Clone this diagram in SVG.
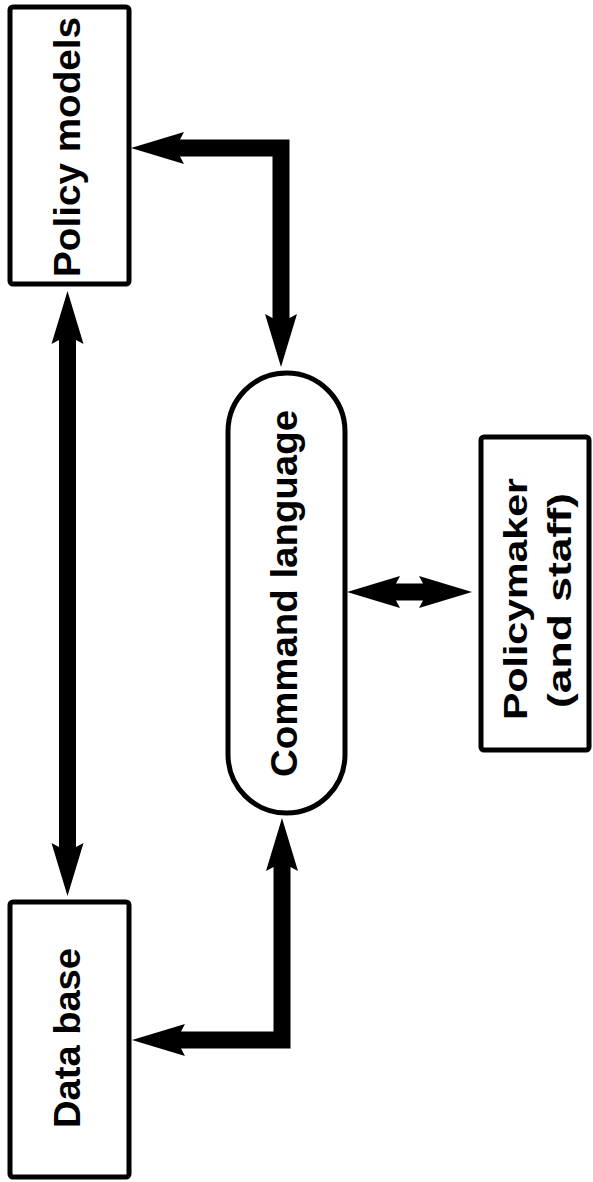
<svg xmlns="http://www.w3.org/2000/svg" xmlns:xlink="http://www.w3.org/1999/xlink" width="593" height="1182" viewBox="0 0 593 1182">
  <style>
    .box { fill: #fff; stroke: #000; stroke-width: 5; }
    .lbl { font-family: "Liberation Sans", Arial, Helvetica, sans-serif; font-weight: bold; fill: #000; text-anchor: middle; }
    .shaft { fill: none; stroke: #000; stroke-width: 17; stroke-linejoin: miter; stroke-linecap: butt; }
    .head { fill: #000; }
  </style>
  <defs>
    <path id="ah" class="head" d="M0,0 L-53,-16 L-49,-8.5 L-49,8.5 L-53,16 Z"/>
  </defs>
  <rect x="0" y="0" width="593" height="1182" fill="#fff"/>

  <g id="connectors">
    <!-- Policy models <-> Data base -->
    <line class="shaft" x1="67.5" y1="338" x2="67.5" y2="849"/>
    <use xlink:href="#ah" transform="translate(67.5,291) rotate(-90)"/>
    <use xlink:href="#ah" transform="translate(67.5,896) rotate(90)"/>
    <!-- Command language <-> Policy models -->
    <path class="shaft" d="M281,320 L281,148 L178,148"/>
    <use xlink:href="#ah" transform="translate(131,148) rotate(180)"/>
    <use xlink:href="#ah" transform="translate(281,367) rotate(90)"/>
    <!-- Command language <-> Data base -->
    <path class="shaft" d="M282,865 L282,1040 L179,1040"/>
    <use xlink:href="#ah" transform="translate(132,1040) rotate(180)"/>
    <use xlink:href="#ah" transform="translate(282,818) rotate(-90)"/>
    <!-- Command language <-> Policymaker -->
    <line class="shaft" x1="395" y1="592" x2="424" y2="592"/>
    <use xlink:href="#ah" transform="translate(347,592) rotate(180)"/>
    <use xlink:href="#ah" transform="translate(472,592)"/>
  </g>

  <g id="policy-models">
    <rect class="box" x="10" y="7" width="119" height="277" rx="3"/>
    <text class="lbl" font-size="36" transform="translate(80,147) rotate(-90)" textLength="260" lengthAdjust="spacingAndGlyphs">Policy models</text>
  </g>

  <g id="data-base">
    <rect class="box" x="10" y="902" width="119" height="275" rx="3"/>
    <text class="lbl" font-size="36" transform="translate(80,1038) rotate(-90)" textLength="180" lengthAdjust="spacingAndGlyphs">Data base</text>
  </g>

  <g id="command-language">
    <rect class="box" x="228" y="373" width="117" height="440" rx="58.5"/>
    <text class="lbl" font-size="36" transform="translate(297,593.5) rotate(-90)" textLength="367" lengthAdjust="spacingAndGlyphs">Command language</text>
  </g>

  <g id="policymaker">
    <rect class="box" x="481" y="437" width="108" height="313" rx="3"/>
    <text class="lbl" font-size="33" transform="translate(527,599) rotate(-90)" textLength="242" lengthAdjust="spacingAndGlyphs">Policymaker</text>
    <text class="lbl" font-size="33" transform="translate(571,600.5) rotate(-90)" textLength="215" lengthAdjust="spacingAndGlyphs">(and staff)</text>
  </g>
</svg>
